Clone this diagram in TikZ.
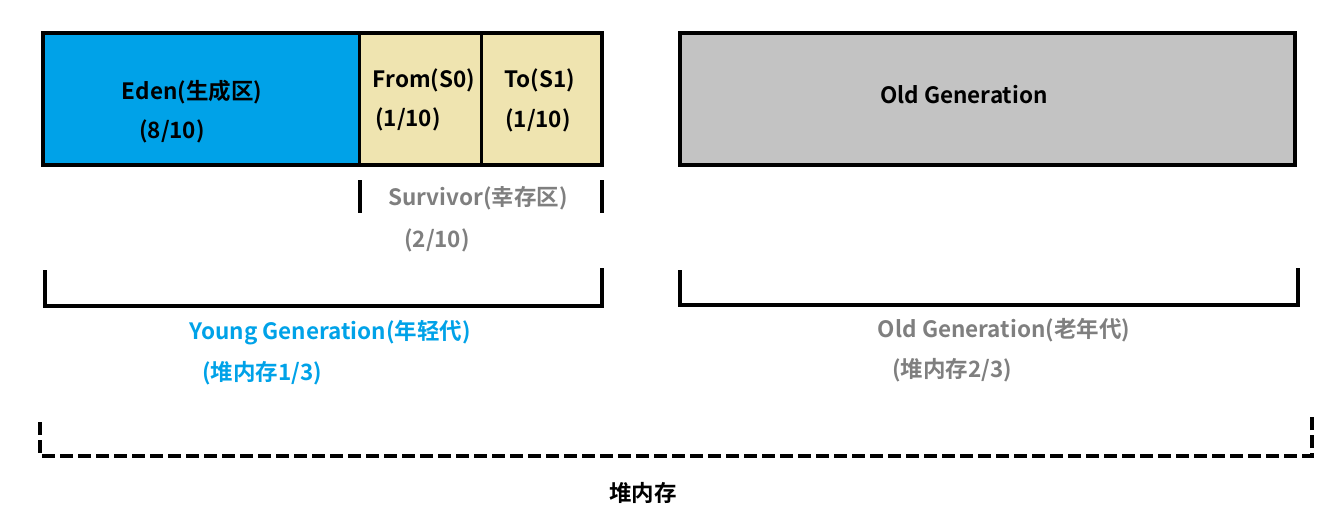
\documentclass[tikz,border=0pt]{standalone}
\usepackage{fontspec}
\setmainfont{Noto Sans CJK SC}[BoldFont={* Bold}]
\newfontfamily\cjkb{Noto Sans CJK SC Bold}
\definecolor{edenblue}{HTML}{00A2E8}
\definecolor{survivor}{HTML}{EFE4B0}
\definecolor{oldgray}{HTML}{C3C3C3}
\definecolor{labelgray}{HTML}{7F7F7F}
\begin{document}
\begin{tikzpicture}[x=1pt,y=-1pt,
  lbl/.style={font=\cjkb\fontsize{22.5}{26}\selectfont, inner sep=0pt},
  region/.style={draw=black, line width=4pt},
  brace/.style={draw=black, line width=3.5pt},
  dbrace/.style={draw=black, line width=3.5pt, dash pattern=on 13pt off 5pt}]
\useasboundingbox (0,0) rectangle (1328,523);
% young generation boxes
\fill[edenblue] (43,33) rectangle (359,165);
\fill[survivor] (359,33) rectangle (602,165);
\draw[line width=3pt] (359,33) -- (359,165) (481,33) -- (481,165);
\draw[region] (43,33) rectangle (602,165);
\node[lbl] (eden) at (192,92) {Eden(生成区)};
\node[lbl] (edenr) at (172,131) {(8/10)};
\node[lbl] (from) at (424,80) {From(S0)};
\node[lbl] (fromr) at (408,119) {(1/10)};
\node[lbl] (to) at (540,80) {To(S1)};
\node[lbl] (tor) at (538,120) {(1/10)};
% old generation box
\fill[oldgray] (680,33) rectangle (1295,165);
\draw[region] (680,33) rectangle (1295,165);
\node[lbl] (old) at (964,95) {Old Generation};
% survivor bracket
\coordinate (s1) at (360,180); \coordinate (s2) at (360,213);
\coordinate (s3) at (602,180); \coordinate (s4) at (602,213);
\draw[brace] (s1) -- (s2);
\draw[brace] (s3) -- (s4);
\node[lbl, text=labelgray] (surv) at (478,198) {Survivor(幸存区)};
\node[lbl, text=labelgray] (survr) at (437,240) {(2/10)};
% young bracket
\coordinate (y1) at (45,270); \coordinate (y2) at (45,306);
\coordinate (y3) at (602,306); \coordinate (y4) at (602,268);
\draw[brace] (y1) -- (y2) -- (y3) -- (y4);
\node[lbl, text=edenblue] (young) at (330,333) {Young Generation(年轻代)};
\node[lbl, text=edenblue] (youngr) at (262,373) {(堆内存1/3)};
% old bracket
\coordinate (o1) at (680,270); \coordinate (o2) at (680,305);
\coordinate (o3) at (1298,305); \coordinate (o4) at (1298,268);
\draw[brace] (o1) -- (o2) -- (o3) -- (o4);
\node[lbl, text=labelgray] (oldl) at (1004,330) {Old Generation(老年代)};
\node[lbl, text=labelgray] (oldr) at (952,370) {(堆内存2/3)};
% heap bracket
\coordinate (h1) at (40,422); \coordinate (h2) at (40,456);
\coordinate (h3) at (1312,456); \coordinate (h4) at (1312,415);
\draw[dbrace] (h1) -- (h2) -- (h3) -- (h4);
\node[lbl] (heap) at (643,493) {堆内存};
\end{tikzpicture}
\end{document}
